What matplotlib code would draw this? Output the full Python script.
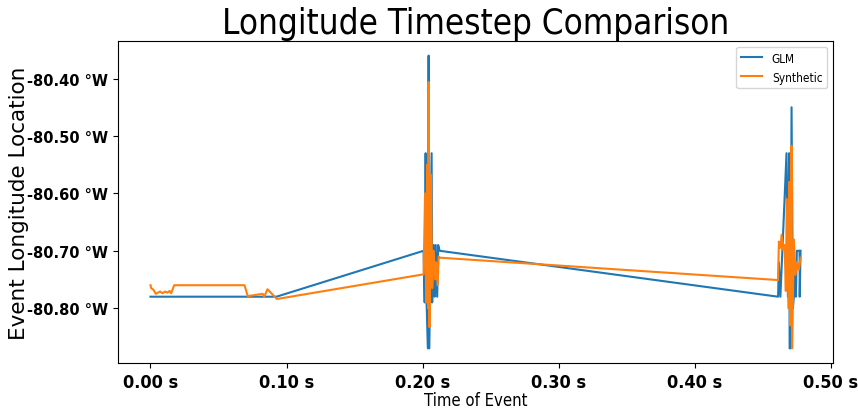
import matplotlib
matplotlib.use("Agg")
import matplotlib.pyplot as plt
from matplotlib.ticker import FormatStrFormatter, MultipleLocator

# event times (s) and longitudes (deg) for the GLM observations
glm_time = [0.0, 0.0926, 0.2007, 0.2015, 0.2022, 0.2029, 0.2039, 0.2044, 0.2049,
            0.2066, 0.2070, 0.2081, 0.2088, 0.2096, 0.2107, 0.2114, 0.2125,
            0.4612, 0.4618, 0.4629, 0.4674, 0.4684, 0.4693, 0.4697, 0.4704,
            0.4711, 0.4721, 0.4728, 0.4739, 0.4743, 0.4750, 0.4770, 0.4771, 0.4777]
glm_lon = [-80.78, -80.78, -80.70, -80.79, -80.53, -80.79, -80.87, -80.36, -80.87,
           -80.53, -80.79, -80.69, -80.78, -80.69, -80.78, -80.69, -80.70,
           -80.78, -80.72, -80.78, -80.53, -80.78, -80.53, -80.87, -80.87,
           -80.45, -80.80, -80.78, -80.74, -80.78, -80.70, -80.70, -80.78, -80.70]

# synthetic events
syn_time = [0.0, 0.0005, 0.0022, 0.0039, 0.0054, 0.0071, 0.0088, 0.0108, 0.0125,
            0.0140, 0.0152, 0.0174, 0.0691, 0.0715, 0.0824, 0.0836, 0.0860, 0.0929,
            0.2007, 0.2018, 0.2026, 0.2033, 0.2040, 0.2044, 0.2050, 0.2061, 0.2070,
            0.2081, 0.2092, 0.2099, 0.2110, 0.2118, 0.2125,
            0.4612, 0.4618, 0.4630, 0.4638, 0.4647, 0.4660, 0.4669, 0.4676, 0.4688,
            0.4695, 0.4702, 0.4711, 0.4715, 0.4728, 0.4740, 0.4752, 0.4765, 0.4777]
syn_lon = [-80.760, -80.765, -80.768, -80.775, -80.773, -80.771, -80.774, -80.771, -80.773,
           -80.770, -80.774, -80.760, -80.760, -80.779, -80.775, -80.780, -80.767, -80.784,
           -80.741, -80.60, -80.79, -80.55, -80.80, -80.406, -80.833, -80.567, -80.765,
           -80.70, -80.75, -80.72, -80.76, -80.71, -80.712,
           -80.751, -80.684, -80.695, -80.672, -80.698, -80.690, -80.77, -80.61, -80.80,
           -80.58, -80.83, -80.517, -80.87, -80.68, -80.742, -80.719, -80.733, -80.712]

cond = {'family': 'DejaVu Sans', 'stretch': 'condensed'}

fig = plt.figure(figsize=(8.58, 4.10), dpi=100)
ax = fig.add_axes([0.1375, 0.1122, 0.8334, 0.7854])

ax.plot(glm_time, glm_lon, color='tab:blue', label='GLM')
ax.plot(syn_time, syn_lon, color='tab:orange', label='Synthetic')

ax.set_title('Longitude Timestep Comparison', fontsize=25, fontdict=cond, pad=6)
ax.set_xlabel('Time of Event', fontsize=12, fontdict=cond, labelpad=0)
ax.set_ylabel('Event Longitude Location', fontsize=15.5, labelpad=-1)

ax.xaxis.set_major_locator(MultipleLocator(0.1))
ax.yaxis.set_major_locator(MultipleLocator(0.1))
ax.xaxis.set_major_formatter(FormatStrFormatter('%.2f s'))
ax.yaxis.set_major_formatter(FormatStrFormatter('%.2f °W'))
for lab in ax.get_xticklabels():
    lab.set_fontsize(13)
    lab.set_fontweight('bold')
    lab.set_fontstretch('condensed')
for lab in ax.get_yticklabels():
    lab.set_fontsize(10.5)
    lab.set_fontweight('bold')

leg = ax.legend(loc='upper right', handlelength=1.8,
                prop={'size': 8.5, 'stretch': 'condensed'})

fig.savefig('out.png', dpi=100)
